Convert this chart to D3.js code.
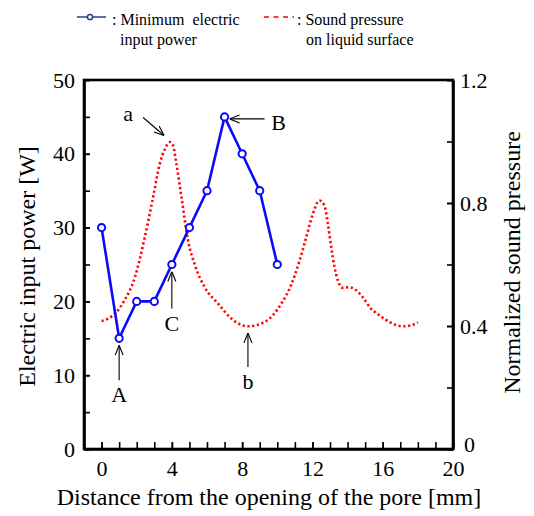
<!DOCTYPE html>
<html><head><meta charset="utf-8">
<script src="https://cdn.jsdelivr.net/npm/d3@7"></script>
<style>body{margin:0;background:#fff}svg{display:block}</style>
</head><body><svg id="chart" width="534" height="516"></svg>
<script>
// ---- data ----
const distance = [0, 1, 2, 3, 4, 5, 6, 7, 8, 9, 10];
const minPower = [30, 15, 20, 20, 25, 30, 35, 45, 40, 35, 25];
const soundX = [0, 0.4, 0.8, 1.3, 1.9, 2.46, 2.93, 3.31, 3.6, 3.9, 4.05, 4.26, 4.55, 4.92, 5.3, 5.87, 6.63, 7.39, 8.33, 9.28, 10.23, 10.8, 11.27, 11.65, 12.0, 12.4, 12.69, 12.88, 13.07, 13.26, 13.45, 13.73, 14.1, 14.49, 14.86, 15.34, 15.81, 16.38, 17.14, 17.61, 18];
const soundP = [0.416, 0.425, 0.442, 0.483, 0.559, 0.689, 0.818, 0.927, 0.975, 0.998, 0.99, 0.927, 0.818, 0.678, 0.600, 0.526, 0.473, 0.424, 0.399, 0.413, 0.473, 0.535, 0.613, 0.689, 0.76, 0.808, 0.791, 0.732, 0.656, 0.591, 0.548, 0.524, 0.526, 0.516, 0.494, 0.456, 0.435, 0.413, 0.399, 0.402, 0.412];
const xTicks = [0, 4, 8, 12, 16, 20];
const xMinorTicks = d3.range(0, 21, 1);
const yLeftTicks = [0, 10, 20, 30, 40, 50];
const yLeftMinor = d3.range(0, 51, 5);
const yRightTicks = [0, 0.4, 0.8, 1.2];
const yRightMinor = [0, 0.2, 0.4, 0.6, 0.8, 1.0, 1.2];
const xTitle = "Distance from the opening of the pore [mm]";
const yLeftTitle = "Electric input power [W]";
const yRightTitle = "Normalized sound pressure";
const legendPower = [": Minimum  electric", "input power"];
const legendSound = [": Sound pressure", "on liquid surface"];
// annotations anchored to data points
const annotations = [
  {label: "A", x: 1, y: 15, axis: "left"},
  {label: "C", x: 4, y: 25, axis: "left"},
  {label: "b", x: 8.33, y: 0.40, axis: "right"},
  {label: "B", x: 7, y: 45, axis: "left"},
  {label: "a", x: 3.9, y: 1.0, axis: "right"}
];

// ---- layout ----
const L = 84, R = 453, T = 80, B = 449;
const FONT = "'Liberation Serif', 'Times New Roman', serif";
const svg = d3.select("#chart");
svg.attr("font-family", FONT);

const x = d3.scaleLinear().domain([-1, 20]).range([L, R]);
const yL = d3.scaleLinear().domain([0, 50]).range([B, T]);
const yR = d3.scaleLinear().domain([0, 1.2]).range([B, T]);

// minor ticks
svg.append("g").attr("transform", `translate(0,${B})`)
  .call(d3.axisBottom(x).tickValues(xMinorTicks).tickSizeInner(-7).tickSizeOuter(0).tickFormat(""))
  .call(g => g.select(".domain").remove())
  .call(g => g.selectAll("line").attr("stroke-width", 1.6));
svg.append("g").attr("transform", `translate(${L},0)`)
  .call(d3.axisLeft(yL).tickValues(yLeftMinor).tickSizeInner(-6).tickSizeOuter(0).tickFormat(""))
  .call(g => g.select(".domain").remove())
  .call(g => g.selectAll("line").attr("stroke-width", 1.6));
svg.append("g").attr("transform", `translate(${R},0)`)
  .call(d3.axisRight(yR).tickValues(yRightMinor).tickSizeInner(-6).tickSizeOuter(0).tickFormat(""))
  .call(g => g.select(".domain").remove())
  .call(g => g.selectAll("line").attr("stroke-width", 1.6));

// labeled axes
const gx = svg.append("g").attr("transform", `translate(0,${B})`)
  .call(d3.axisBottom(x).tickValues(xTicks).tickSizeInner(-7).tickSizeOuter(0).tickPadding(9));
const gyl = svg.append("g").attr("transform", `translate(${L},0)`)
  .call(d3.axisLeft(yL).tickValues(yLeftTicks).tickSizeInner(-6).tickSizeOuter(0).tickPadding(9));
const gyr = svg.append("g").attr("transform", `translate(${R},0)`)
  .call(d3.axisRight(yR).tickValues(yRightTicks).tickSizeInner(-6).tickSizeOuter(0).tickPadding(7)
    .tickFormat(d => d === 0 ? "0" : d3.format(".1f")(d)));
[gx, gyl, gyr].forEach(g => {
  g.selectAll("text").attr("font-size", 22).attr("font-family", FONT).attr("fill", "#000");
  g.selectAll("line").attr("stroke-width", 1.6);
  g.select(".domain").attr("stroke-width", 2.6);
});
gx.selectAll("text").attr("dy", "0.84em");
gyr.selectAll("text").filter(d => d === 0).attr("x", 11).attr("dy", "0.12em");
// frame
svg.append("rect").attr("x", L).attr("y", T).attr("width", R - L).attr("height", B - T)
  .attr("fill", "none").attr("stroke", "#000").attr("stroke-width", 2.6);

// ---- series ----
const soundData = soundX.map((d, i) => [d, soundP[i]]);
svg.append("path").datum(soundData)
  .attr("fill", "none").attr("stroke", "#ff0000").attr("stroke-width", 2.6)
  .attr("stroke-dasharray", "2.2,2.6")
  .attr("d", d3.line().x(d => x(d[0])).y(d => yR(d[1])).curve(d3.curveMonotoneX));

const powerData = distance.map((d, i) => [d, minPower[i]]);
svg.append("path").datum(powerData)
  .attr("fill", "none").attr("stroke", "#0a0aff").attr("stroke-width", 2.6)
  .attr("stroke-linejoin", "round")
  .attr("d", d3.line().x(d => x(d[0])).y(d => yL(d[1])));
svg.selectAll("circle.pw").data(powerData).join("circle").attr("class", "pw")
  .attr("cx", d => x(d[0])).attr("cy", d => yL(d[1])).attr("r", 3.6)
  .attr("fill", "#fff").attr("stroke", "#0a0aff").attr("stroke-width", 2);

// ---- annotations ----
const defs = svg.append("defs");
defs.append("marker").attr("id", "arr").attr("viewBox", "0 0 10 10")
  .attr("refX", 10).attr("refY", 5).attr("markerWidth", 10).attr("markerHeight", 10)
  .attr("markerUnits", "userSpaceOnUse").attr("orient", "auto")
  .append("path").attr("d", "M0,1 L10,5 L0,9").attr("fill", "none").attr("stroke", "#000").attr("stroke-width", 1.1);

function arrow(x1, y1, x2, y2) {
  svg.append("line").attr("x1", x1).attr("y1", y1).attr("x2", x2).attr("y2", y2)
    .attr("stroke", "#000").attr("stroke-width", 1.1).attr("marker-end", "url(#arr)");
}
function label(t, px, py) {
  svg.append("text").attr("x", px).attr("y", py).attr("text-anchor", "middle")
    .attr("font-size", 22).attr("fill", "#000").text(t);
}
annotations.forEach(a => {
  const px = x(a.x), py = a.axis === "left" ? yL(a.y) : yR(a.y);
  if (a.label === "A" || a.label === "C" || a.label === "b") {
    const len = a.label === "A" ? 35 : (a.label === "C" ? 37 : 34);
    arrow(px, py + 7 + len, px, py + 7);
    label(a.label, px, py + 7 + len + 22);
  } else if (a.label === "B") {
    arrow(px + 40, py + 2, px + 5, py + 2);
    label(a.label, px + 54, py + 13);
  } else if (a.label === "a") {
    arrow(px - 27, py - 24, px - 6, py - 6);
    label(a.label, px - 42, py - 21);
  }
});

// ---- titles ----
svg.append("text").attr("x", 269).attr("y", 505).attr("text-anchor", "middle")
  .attr("font-size", 24).text(xTitle);
svg.append("text").attr("transform", `translate(35,${(T + B) / 2 + 2}) rotate(-90)`).attr("text-anchor", "middle")
  .attr("font-size", 24).text(yLeftTitle);
svg.append("text").attr("transform", `translate(520,${(T + B) / 2 - 2}) rotate(-90)`).attr("text-anchor", "middle")
  .attr("font-size", 24).text(yRightTitle);

// ---- legend ----
const lg = svg.append("g");
lg.append("line").attr("x1", 77).attr("x2", 106).attr("y1", 17).attr("y2", 17)
  .attr("stroke", "#23418a").attr("stroke-width", 1.5);
lg.append("circle").attr("cx", 90).attr("cy", 17).attr("r", 2.6)
  .attr("fill", "#fff").attr("stroke", "#23418a").attr("stroke-width", 1.5);
lg.append("text").attr("x", 112).attr("y", 25).attr("font-size", 16).style("white-space", "pre").text(legendPower[0]);
lg.append("text").attr("x", 120).attr("y", 45).attr("font-size", 16).text(legendPower[1]);
lg.append("line").attr("x1", 264).attr("x2", 294).attr("y1", 17).attr("y2", 17)
  .attr("stroke", "#ff0000").attr("stroke-width", 1.3).attr("stroke-dasharray", "5,4.5");
lg.append("text").attr("x", 297).attr("y", 25).attr("font-size", 16).text(legendSound[0]);
lg.append("text").attr("x", 306).attr("y", 45).attr("font-size", 16).text(legendSound[1]);
</script></body></html>
